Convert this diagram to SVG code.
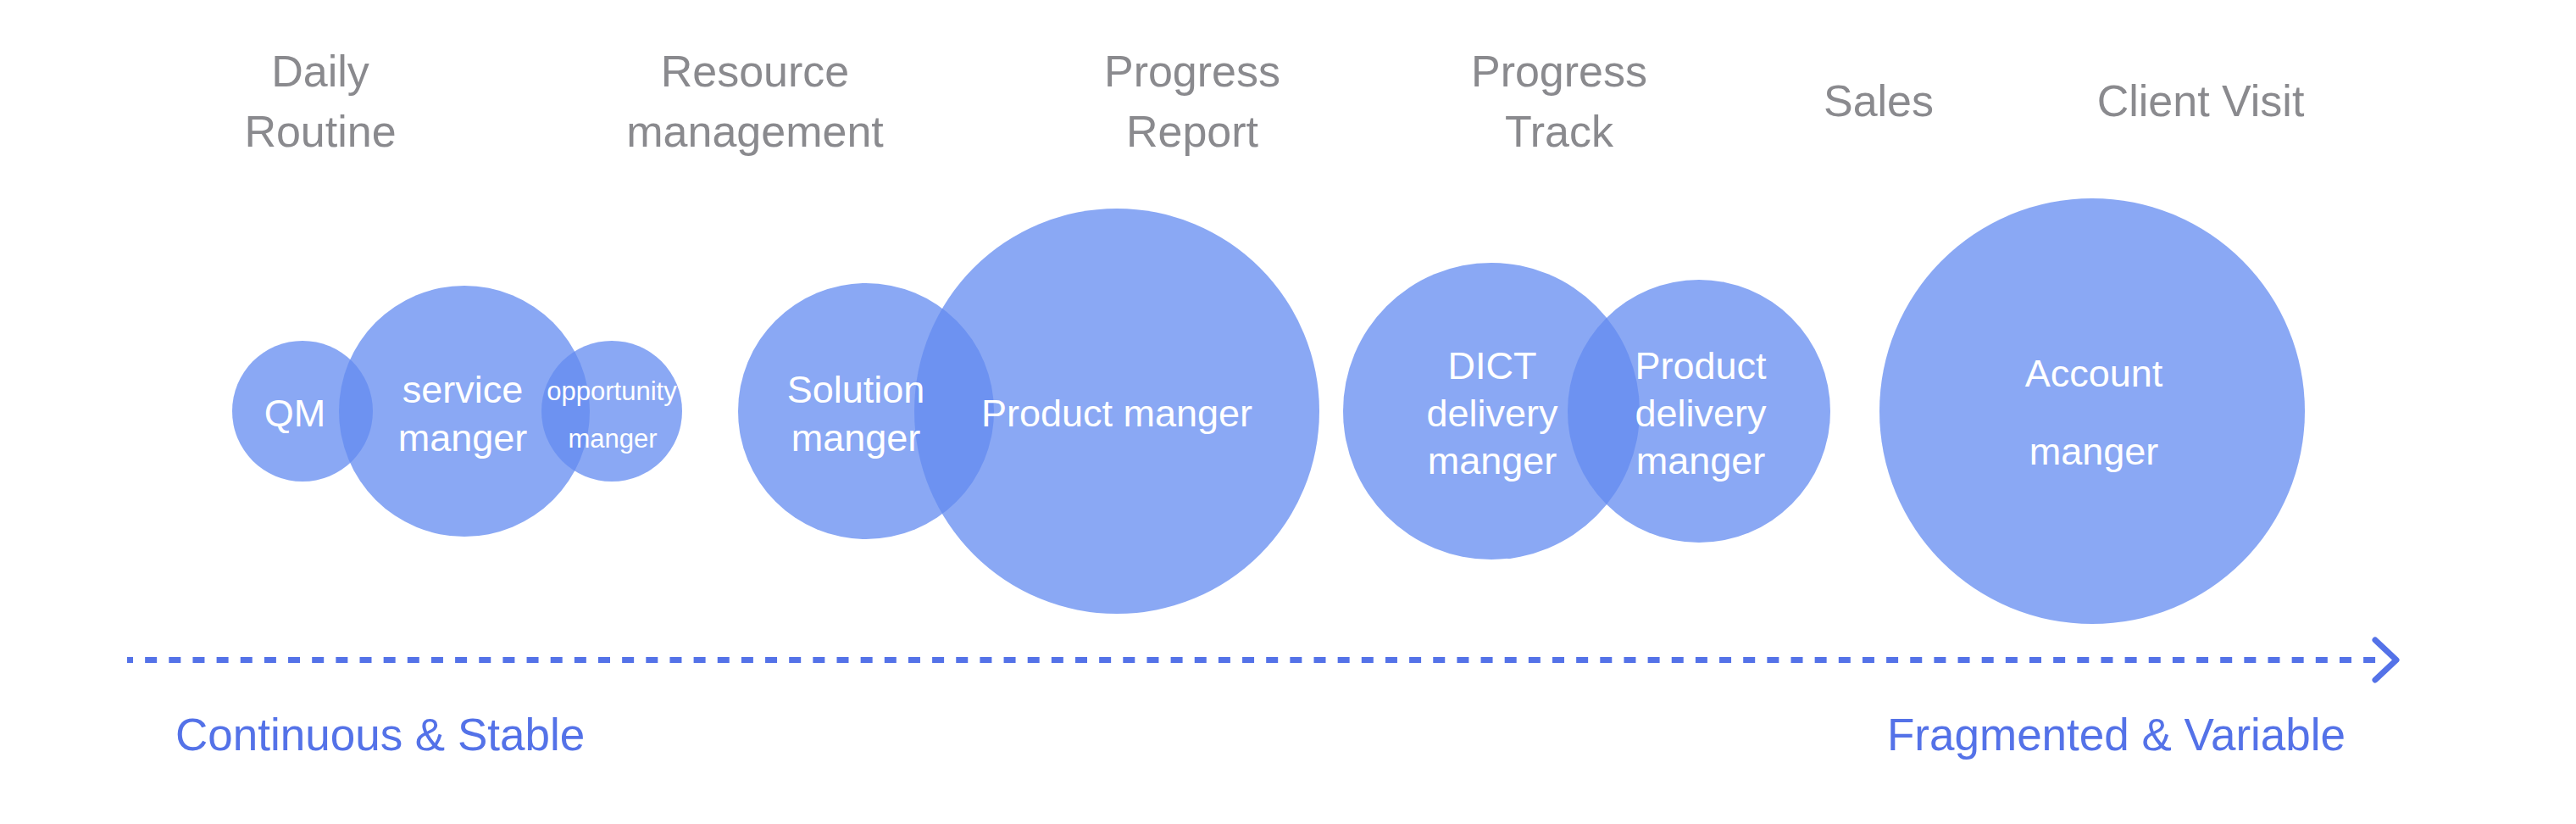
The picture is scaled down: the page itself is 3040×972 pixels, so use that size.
<svg xmlns="http://www.w3.org/2000/svg" width="3040" height="972" viewBox="0 0 3040 972">
<style>
.c{fill:#638bf0;fill-opacity:0.75}
.t{font-family:"Liberation Sans",Arial,Helvetica,sans-serif;font-size:45px;fill:#ffffff;text-anchor:middle}
.s{font-size:31px}
.h{font-family:"Liberation Sans",Arial,Helvetica,sans-serif;font-size:52px;fill:#8a8a8e;text-anchor:middle}
.b{font-family:"Liberation Sans",Arial,Helvetica,sans-serif;font-size:53px;fill:#5472e8}
</style>
<rect width="3040" height="972" fill="#ffffff"/>
<g id="headers">
<text class="h" x="378" y="102">Daily</text>
<text class="h" x="378" y="173">Routine</text>
<text class="h" x="891" y="102">Resource</text>
<text class="h" x="891" y="173">management</text>
<text class="h" x="1407" y="102">Progress</text>
<text class="h" x="1407" y="173">Report</text>
<text class="h" x="1840" y="102">Progress</text>
<text class="h" x="1840" y="173">Track</text>
<text class="h" x="2217" y="137">Sales</text>
<text class="h" x="2597" y="137">Client Visit</text>
</g>
<g id="node-qm"><circle class="c" cx="357" cy="485" r="83"/></g>
<g id="node-service"><circle class="c" cx="548" cy="485" r="148"/></g>
<g id="node-opportunity"><circle class="c" cx="722" cy="485" r="83"/></g>
<g id="node-solution"><circle class="c" cx="1022" cy="485" r="151"/></g>
<g id="node-product"><circle class="c" cx="1318" cy="485" r="239"/></g>
<g id="node-dict"><circle class="c" cx="1760" cy="485" r="175"/></g>
<g id="node-product-delivery"><circle class="c" cx="2005" cy="485" r="155"/></g>
<g id="node-account"><circle class="c" cx="2469" cy="485" r="251"/></g>
<g id="labels">
<text class="t" x="348" y="503">QM</text>
<text class="t" x="546" y="475">service</text>
<text class="t" x="546" y="532">manger</text>
<text class="t s" x="722" y="472">opportunity</text>
<text class="t s" x="723" y="528">manger</text>
<text class="t" x="1010" y="475">Solution</text>
<text class="t" x="1010" y="532">manger</text>
<text class="t" x="1318" y="503">Product manger</text>
<text class="t" x="1761" y="447">DICT</text>
<text class="t" x="1761" y="503">delivery</text>
<text class="t" x="1761" y="559">manger</text>
<text class="t" x="2007" y="447">Product</text>
<text class="t" x="2007" y="503">delivery</text>
<text class="t" x="2007" y="559">manger</text>
<text class="t" x="2471" y="456">Account</text>
<text class="t" x="2471" y="548">manger</text>
</g>
<g id="connectors">
<line x1="150" y1="778.5" x2="2806" y2="778.5" stroke="#5472e8" stroke-width="7" stroke-dasharray="14 14.15" stroke-dashoffset="7"/>
<polyline points="2803,755 2828,778.5 2803,802" fill="none" stroke="#5472e8" stroke-width="7" stroke-linecap="round" stroke-linejoin="round"/>
</g>
<g id="axis-labels">
<text class="b" x="207" y="885">Continuous &amp; Stable</text>
<text class="b" x="2227" y="885">Fragmented &amp; Variable</text>
</g>
</svg>
